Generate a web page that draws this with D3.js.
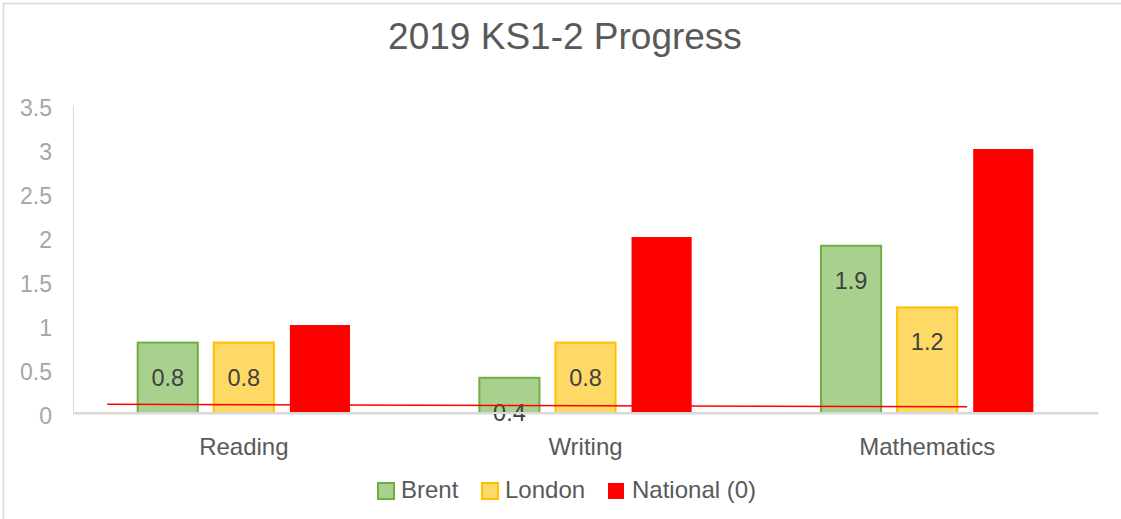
<!DOCTYPE html>
<html>
<head>
<meta charset="utf-8">
<script src="https://cdn.jsdelivr.net/npm/d3@7/dist/d3.min.js"></script>
<style>
  html, body { margin: 0; padding: 0; background: #fff; }
  svg { display: block; font-family: "Liberation Sans", Arial, sans-serif; }
</style>
</head>
<body>
<svg id="chart" width="1121" height="519"></svg>
<script>
const categories = ["Reading", "Writing", "Mathematics"];
const seriesNames = ["Brent", "London", "National (0)"];
const brent = [0.8, 0.4, 1.9];
const london = [0.8, 0.8, 1.2];
const national = [1, 2, 3];
const yTicks = [0, 0.5, 1, 1.5, 2, 2.5, 3, 3.5];
// thin red reference line: [category position, value]
const refLine = [[0.1, 0.1], [2.617, 0.07]];

(function () {
const fills = ["#a9d18e", "#ffd966", "#ff0000"];
const strokes = ["#70ad47", "#ffc000", "none"];
const seriesValues = [brent, london, national];

const svg = d3.select("#chart");

// chart border
svg.append("rect").attr("x", 3.5).attr("y", 3.5).attr("width", 1130).attr("height", 530)
  .attr("fill", "none").attr("stroke", "#d9d9d9").attr("stroke-width", 1.5);

const pLeft = 73, pRight = 1098, pTop = 105, pBottom = 413;

const x = d3.scaleBand().domain(categories).range([pLeft, pRight]).paddingInner(0).paddingOuter(0);
const xs = d3.scaleBand().domain(seriesNames).range([0, x.bandwidth()]).paddingInner(0.21).paddingOuter(0.85);
const xPos = d3.scaleLinear().domain([0, categories.length]).range([pLeft, pRight]);
const y = d3.scaleLinear().domain([0, 3.5]).range([pBottom, pTop]);

// title
svg.append("text").attr("x", 565).attr("y", 49).attr("text-anchor", "middle")
  .attr("font-size", 37).attr("fill", "#595959").text("2019 KS1-2 Progress");

// y axis
const yAxis = d3.axisLeft(y).tickValues(yTicks).tickSize(0).tickPadding(21)
  .tickFormat(d => String(d));
const gy = svg.append("g").attr("transform", `translate(${pLeft},0)`).call(yAxis);
gy.select(".domain").attr("stroke", "#d9d9d9").attr("stroke-width", 1);
gy.selectAll("text").attr("font-size", 23).attr("fill", "#a6a6a6")
  .attr("font-family", "'Liberation Sans', Arial, sans-serif").attr("dy", "0.45em");

// bars
seriesNames.forEach((s, si) => {
  const g = svg.append("g");
  g.selectAll("rect").data(categories).join("rect")
    .attr("x", c => x(c) + xs(s))
    .attr("y", (c, i) => y(seriesValues[si][i]))
    .attr("width", xs.bandwidth())
    .attr("height", (c, i) => y(0) - y(seriesValues[si][i]))
    .attr("fill", fills[si])
    .attr("stroke", strokes[si])
    .attr("stroke-width", strokes[si] === "none" ? 0 : 2);
});

// x axis baseline
const xAxis = d3.axisBottom(x).tickSize(0).tickPadding(25);
const gx = svg.append("g").attr("transform", `translate(0,${pBottom})`).call(xAxis);
gx.select(".domain").attr("stroke", "#d9d9d9").attr("stroke-width", 2);
gx.selectAll("text").attr("font-size", 24).attr("fill", "#595959")
  .attr("font-family", "'Liberation Sans', Arial, sans-serif").attr("dy", "0.71em");

// data labels (inside end) for Brent and London
[0, 1].forEach(si => {
  svg.append("g").selectAll("text").data(categories).join("text")
    .attr("x", c => x(c) + xs(seriesNames[si]) + xs.bandwidth() / 2)
    .attr("y", (c, i) => y(seriesValues[si][i]) + 43)
    .attr("text-anchor", "middle")
    .attr("font-size", 23.5).attr("fill", "#404040")
    .text((c, i) => seriesValues[si][i]);
});

// baseline drawn over the low label like the reference
svg.append("line").attr("x1", pLeft).attr("x2", pRight).attr("y1", pBottom).attr("y2", pBottom)
  .attr("stroke", "#d9d9d9").attr("stroke-width", 2);

// red reference line
svg.append("path")
  .attr("d", d3.line().x(d => xPos(d[0])).y(d => y(d[1]))(refLine))
  .attr("stroke", "#ff0000").attr("stroke-width", 1.5).attr("fill", "none");

// legend
const legendItems = [
  { name: seriesNames[0], sx: 378, tx: 401 },
  { name: seriesNames[1], sx: 482, tx: 505 },
  { name: seriesNames[2], sx: 608, tx: 632 }
];
const lg = svg.append("g");
legendItems.forEach((it, i) => {
  lg.append("rect").attr("x", it.sx).attr("y", 483).attr("width", 16).attr("height", 16)
    .attr("fill", fills[i]).attr("stroke", strokes[i]).attr("stroke-width", strokes[i] === "none" ? 0 : 2);
  lg.append("text").attr("x", it.tx).attr("y", 498).attr("font-size", 24).attr("fill", "#595959").text(it.name);
});
})();
</script>
</body>
</html>
